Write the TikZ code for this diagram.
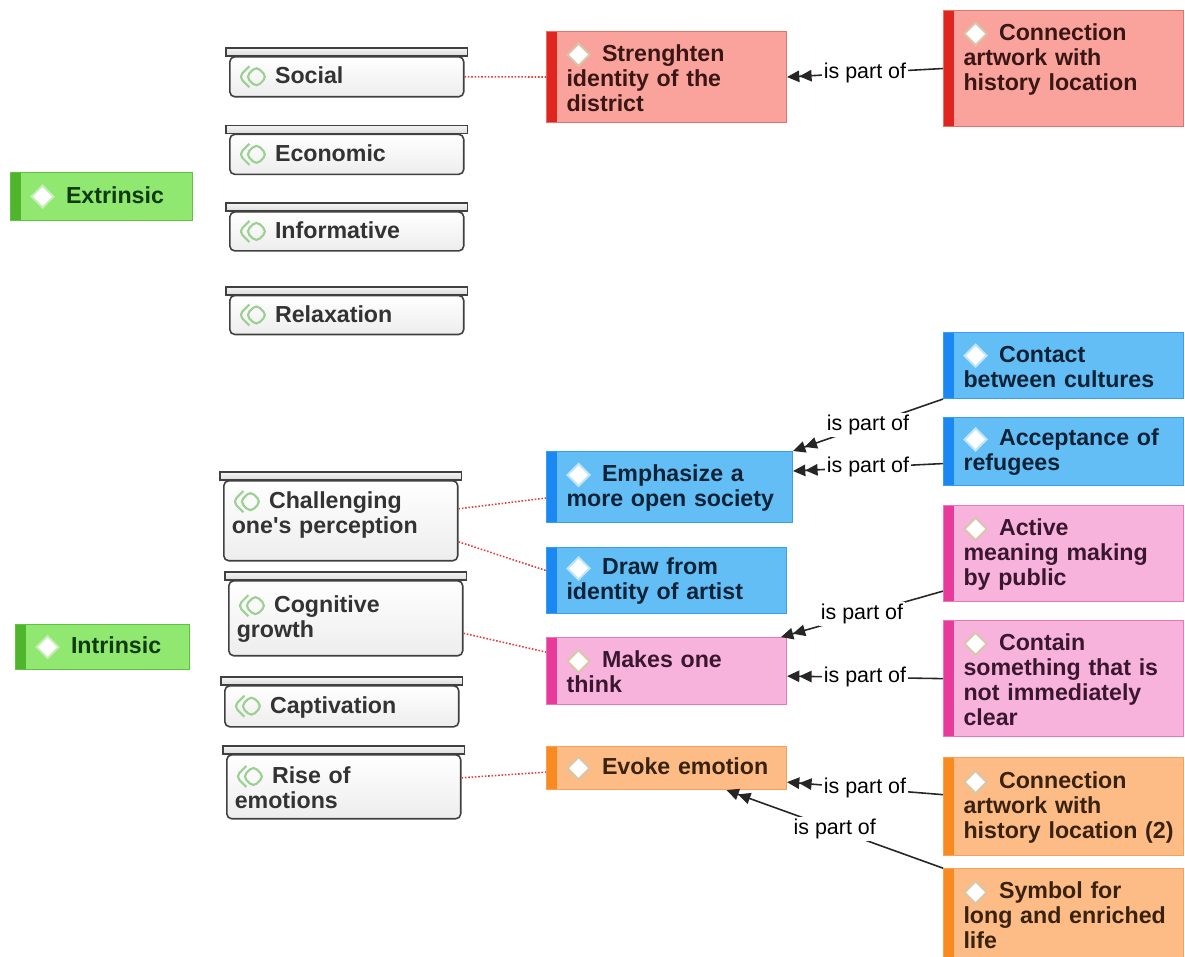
\documentclass[tikz,border=0pt]{standalone}
\usepackage{fontspec}
\setmainfont{Liberation Sans}
\usepackage{tikz}
\usetikzlibrary{positioning,arrows.meta}

\definecolor{redfill}{HTML}{F9A39C}
\definecolor{redline}{HTML}{E5716B}
\definecolor{redbar}{HTML}{E0251F}
\definecolor{redtext}{HTML}{3A1614}
\definecolor{bluefill}{HTML}{64BEF6}
\definecolor{blueline}{HTML}{3A9EEF}
\definecolor{bluebar}{HTML}{1B87F2}
\definecolor{bluetext}{HTML}{0C2236}
\definecolor{pinkfill}{HTML}{F8B3DC}
\definecolor{pinkline}{HTML}{EC74B8}
\definecolor{pinkbar}{HTML}{E73A9B}
\definecolor{pinktext}{HTML}{3A1630}
\definecolor{orangefill}{HTML}{FDBC85}
\definecolor{orangeline}{HTML}{F8A055}
\definecolor{orangebar}{HTML}{F98A1F}
\definecolor{orangetext}{HTML}{3A2210}
\definecolor{greenfill}{HTML}{90E870}
\definecolor{greenline}{HTML}{5EC43E}
\definecolor{greenbar}{HTML}{4FB52C}
\definecolor{greentext}{HTML}{103A10}
\definecolor{aspecttext}{HTML}{333333}
\definecolor{aspecticon}{HTML}{9CCF92}
\definecolor{iconbeige}{HTML}{D9C5A8}
\definecolor{iconblue}{HTML}{BFE6F7}
\definecolor{icongreen}{HTML}{C4EEB4}
\definecolor{linkred}{HTML}{E04040}

\newcommand{\topicfont}{\bfseries\fontsize{13.2}{14.2}\selectfont}
\newcommand{\relfont}{\fontsize{12.2}{14}\selectfont}
% diamond in front of a topic
\newcommand{\topicicon}[1][iconbeige]{\tikz[x=1pt,y=1pt,baseline=0pt]
    \draw[draw=#1, fill=white, line width=1.1pt]
        (0,3.7)--(6.3,10)--(12.6,3.7)--(6.3,-2.6)--cycle;\hspace{6.5pt}}
% chevron + diamond in front of an aspect
\newcommand{\aspectmark}{\tikz[x=1pt,y=1pt,baseline=0pt]
    \draw[draw=aspecticon, line width=1.2pt, line join=miter]
        (6,10)--(0,4)--(6,-2) (4,4)--(10,10)--(16,4)--(10,-2)--cycle;\hspace{4pt}}

\tikzset{
    topic/.style={
           rectangle,
           draw=#1line, line width=0.6pt,
           fill=#1fill,
           text=#1text,
           inner xsep=0.18cm,
           inner ysep=0.12cm,
           text width=4.44cm,
           align=left,
           font=\topicfont,
           execute at begin node={\leftskip=0.22cm},
           path picture={\fill[#1bar] (path picture bounding box.south west)
               rectangle ([xshift=0.2cm]path picture bounding box.north west);},
           anchor=north west,
           },
    aspect/.style={
           rectangle,
           rounded corners=0.1cm,
           draw=black!75, line width=0.9pt,
           top color=white, bottom color=black!7,
           text=aspecttext,
           inner xsep=0.16cm,
           inner ysep=0.1cm,
           text width=4.36cm,
           align=left,
           font=\topicfont,
           anchor=north west,
           },
    lid/.style={draw=black!75, line width=1pt, top color=black!4, bottom color=black!14},
    link/.style={draw=linkred, densely dotted, line width=0.9pt},
    partof/.style={draw=black!85, line width=0.9pt,
           -{Triangle[length=7pt,width=6.5pt]Triangle[length=7pt,width=6.5pt]}},
    rel/.style={fill=white, inner sep=1pt, font=\relfont, text=black},
}

\begin{document}
\begin{tikzpicture}[x=0.02cm, y=-0.02cm]
    \useasboundingbox (0,0) rectangle (1185,956);

    % Perspectives
    \node[topic=green, minimum width=3.64cm, minimum height=0.96cm,
    text width=3.28cm] (extrinsic) at (10,172)
    {\topicicon[icongreen]Extrinsic};

    \node[topic=green, minimum width=3.48cm, minimum height=0.9cm,
    text width=3.12cm] (intrinsic) at (15,624)
    {\topicicon[icongreen]Intrinsic};

    % Aspects (extrinsic)
    \node[aspect, minimum height=0.8cm] (social) at (229,56)
    {\aspectmark Social};
    \node[aspect, minimum height=0.8cm, below=0.72cm of social] (economic)
    {\aspectmark Economic};
    \node[aspect, minimum height=0.78cm, below=0.72cm of economic] (informative)
    {\aspectmark Informative};
    \node[aspect, minimum height=0.78cm, below=0.86cm of informative] (relaxation)
    {\aspectmark Relaxation};

    % Aspects (intrinsic)
    \node[aspect, minimum height=1.6cm] (challenging) at (223,480)
    {\aspectmark Challenging\\one\textquotesingle s perception\\[-4pt]\mbox{}};
    \node[aspect, minimum height=1.5cm] (cognitive) at (228,580)
    {\aspectmark Cognitive\\growth};
    \node[aspect, minimum height=0.82cm] (captivation) at (224,685)
    {\aspectmark Captivation};
    \node[aspect, minimum height=1.28cm] (rise) at (226,754)
    {\aspectmark Rise of\\emotions};

    % lids on top of the aspects
    \foreach \n in {social,economic,informative,relaxation,challenging,cognitive,captivation,rise}
        \draw[lid] ([xshift=-0.06cm]\n.north west) rectangle ([xshift=0.06cm,yshift=0.16cm]\n.north east);

    % Topics, middle column
    \node[topic=red, minimum height=1.82cm] (strengthen) at (546,31)
    {\topicicon Strenghten\\identity of the\\district};

    \node[topic=blue, minimum height=1.42cm, text width=4.56cm] (emphasize) at (546,451)
    {\topicicon[iconblue]Emphasize a\\more open society};
    \node[topic=blue, minimum height=1.32cm,
    below=0.48cm of emphasize.south west, anchor=north west] (drawfrom)
    {\topicicon[iconblue]Draw from\\identity of artist};
    \node[topic=pink, minimum height=1.34cm,
    below=0.46cm of drawfrom.south west, anchor=north west] (makes)
    {\topicicon Makes one\\think};
    \node[topic=orange, minimum height=0.86cm,
    below=0.82cm of makes.south west, anchor=north west] (evoke)
    {\topicicon Evoke emotion};

    % Topics, right column
    \node[topic=red, minimum height=2.32cm] (connection) at (943,10)
    {\topicicon Connection\\artwork with\\history location\\\mbox{}};

    \node[topic=blue, minimum height=1.32cm] (contact) at (943,332)
    {\topicicon[iconblue]Contact\\between cultures};
    \node[topic=blue, minimum height=1.36cm,
    below=0.36cm of contact.south west, anchor=north west] (acceptance)
    {\topicicon[iconblue]Acceptance of\\refugees};
    \node[topic=pink, minimum height=1.92cm,
    below=0.38cm of acceptance.south west, anchor=north west] (active)
    {\topicicon Active\\meaning making\\by public};
    \node[topic=pink, minimum height=2.32cm,
    below=0.36cm of active.south west, anchor=north west] (contain)
    {\topicicon Contain\\something that is\\not immediately\\clear};
    \node[topic=orange, minimum height=1.96cm,
    below=0.4cm of contain.south west, anchor=north west] (connectiontwo)
    {\topicicon Connection\\artwork with\\history location (2)};
    \node[topic=orange, minimum height=1.84cm,
    below=0.24cm of connectiontwo.south west, anchor=north west] (symbol)
    {\topicicon Symbol for\\long and enriched\\life};

    % aspect -- topic links
    \draw[link] (social.east) -- (strengthen.west);
    \draw[link] ([yshift=0.24cm]challenging.east) -- ([yshift=-0.22cm]emphasize.west);
    \draw[link] ([yshift=-0.42cm]challenging.east) -- ([yshift=0.2cm]drawfrom.west);
    \draw[link] ([yshift=-0.3cm]cognitive.east) -- ([yshift=0.38cm]makes.west);
    \draw[link] ([yshift=0.18cm]rise.east) -- ([yshift=-0.08cm]evoke.west);

    % is part of
    \path
        (connection.west) edge[partof] node[rel] {is part of} (strengthen.east)

        (contact.south west) edge[partof] node[rel] {is part of} (emphasize.north east)

        ([yshift=-0.24cm]acceptance.west) edge[partof]
            node[rel] {is part of}
        ([yshift=0.32cm]emphasize.east)

        ([yshift=0.22cm]active.south west) edge[partof]
            node[rel] {is part of}
        ([xshift=-0.12cm]makes.north east)

        (contain.west) edge[partof]
            node[rel] {is part of}
        ([yshift=-0.1cm]makes.east)

        ([yshift=0.24cm]connectiontwo.west) edge[partof]
            node[rel] {is part of}
        ([yshift=-0.28cm]evoke.east)

        (symbol.north west) edge[partof]
            node[rel] {is part of}
        ([xshift=1.2cm]evoke.south)
        ;

\end{tikzpicture}
\end{document}
